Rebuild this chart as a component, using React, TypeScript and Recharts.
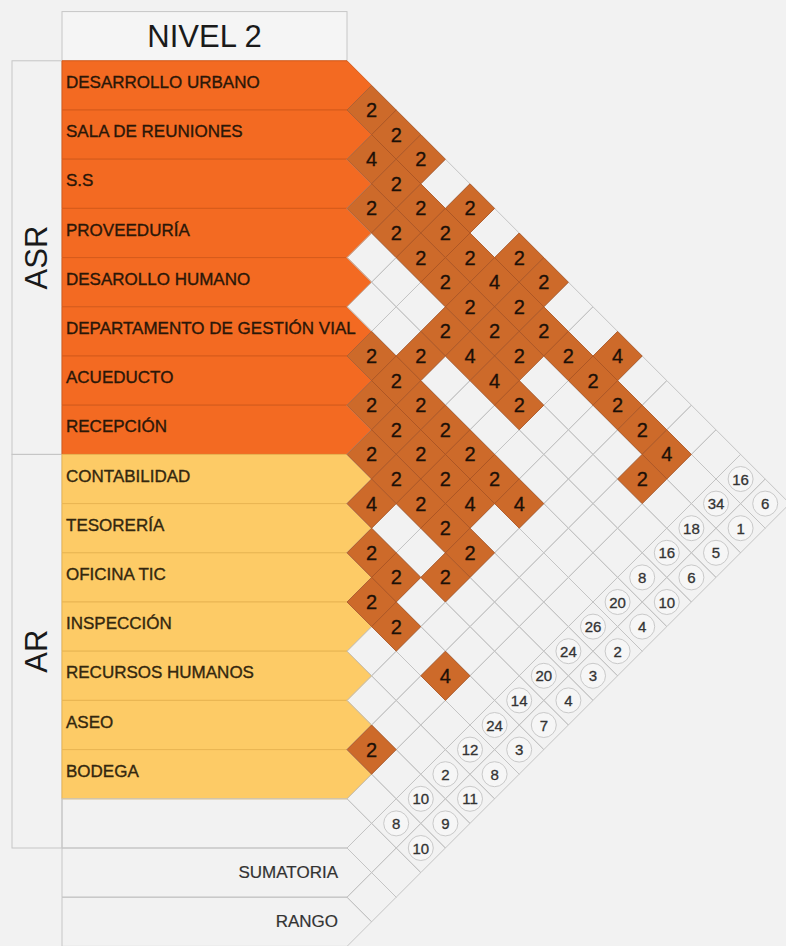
import React from "react";
import { ScatterChart, Scatter, XAxis, YAxis } from "recharts";

// --- data -------------------------------------------------------------
const TITLE = "NIVEL 2";

const DEPARTMENTS = [
  "DESARROLLO URBANO",
  "SALA DE REUNIONES",
  "S.S",
  "PROVEEDURÍA",
  "DESAROLLO HUMANO",
  "DEPARTAMENTO DE GESTIÓN VIAL",
  "ACUEDUCTO",
  "RECEPCIÓN",
  "CONTABILIDAD",
  "TESORERÍA",
  "OFICINA TIC",
  "INSPECCIÓN",
  "RECURSOS HUMANOS",
  "ASEO",
  "BODEGA",
];

// group name, first row, last row (last AR row includes the empty row)
const GROUP_NAMES = ["ASR", "AR"];
const GROUP_FIRST = [0, 8];
const GROUP_LAST = [7, 15];

const FOOT_LABELS = ["", "SUMATORIA", "RANGO"];

// [row i, row j, value]
const LINKS: [number, number, number][] = [
  [0, 1, 2], [0, 2, 2], [0, 3, 2], [0, 5, 2], [0, 7, 2], [0, 8, 2], [0, 11, 4],
  [1, 2, 4], [1, 3, 2], [1, 4, 2], [1, 5, 2], [1, 6, 2], [1, 7, 4], [1, 8, 2],
  [1, 9, 2], [1, 10, 2], [1, 11, 2], [1, 12, 2], [1, 13, 2], [1, 14, 4],
  [2, 3, 2], [2, 4, 2], [2, 5, 2], [2, 6, 2], [2, 7, 2], [2, 8, 2], [2, 9, 2], [2, 14, 2],
  [3, 7, 2], [3, 8, 4], [3, 9, 4], [3, 10, 2],
  [4, 7, 2],
  [5, 6, 2], [5, 7, 2], [5, 8, 2], [5, 9, 2], [5, 10, 2], [5, 11, 2], [5, 12, 4],
  [6, 7, 2], [6, 8, 2], [6, 9, 2], [6, 10, 2], [6, 11, 4],
  [7, 8, 2], [7, 9, 2], [7, 10, 2], [7, 11, 2], [7, 12, 2],
  [8, 9, 4], [8, 12, 2],
  [9, 10, 2], [9, 11, 2],
  [10, 11, 2], [10, 12, 2], [10, 14, 4],
  [13, 14, 2],
];

const SUMATORIA = [16, 34, 18, 16, 8, 20, 26, 24, 20, 14, 24, 12, 2, 10, 8];
const RANGO = [6, 1, 5, 6, 10, 4, 2, 3, 4, 7, 3, 8, 11, 9, 10];

// --- layout -----------------------------------------------------------
const W = 786;
const H = 946;
const U = 24.6; // half row height
const X0 = 347; // right edge of the label column
const Y0 = 85.4; // centre of first row
const LABEL_LEFT = 62;
const GROUP_LEFT = 12;
const FONT = "'Liberation Sans', Arial, sans-serif";

const toD = (px: number) => (px - X0) / U;

const N = DEPARTMENTS.length;
const SUM_ROW = N + 1;
const RANK_ROW = N + 2;
const ALL_ROWS = N + 3;

const rowData = [
  ...DEPARTMENTS.map((name, i) => ({ d: 1, s: 2 * i, name, kind: i < GROUP_FIRST[1] ? "asr" : "ar" })),
  ...FOOT_LABELS.map((name, k) => ({ d: 1, s: 2 * (N + k), name, kind: "foot" })),
];

const gridData: { d: number; s: number }[] = [];
for (let i = 0; i < ALL_ROWS; i++) {
  for (let j = i + 1; j < ALL_ROWS; j++) gridData.push({ d: j - i, s: i + j });
}

const linkData = LINKS.map(([i, j, v]) => ({ d: j - i, s: i + j, v }));
const sumData = SUMATORIA.map((v, i) => ({ d: SUM_ROW - i, s: SUM_ROW + i, v }));
const rankData = RANGO.map((v, i) => ({ d: RANK_ROW - i, s: RANK_ROW + i, v }));

const groupData = GROUP_NAMES.map((name, g) => ({
  d: toD((GROUP_LEFT + LABEL_LEFT) / 2),
  s: GROUP_FIRST[g] + GROUP_LAST[g],
  name,
  rows: GROUP_LAST[g] - GROUP_FIRST[g] + 1,
}));

const headerData = [{ d: toD((LABEL_LEFT + X0) / 2), s: -2, name: TITLE }];

// --- shapes -----------------------------------------------------------
const diamond = (cx: number, cy: number) =>
  `${cx},${cy - U} ${cx + U},${cy} ${cx},${cy + U} ${cx - U},${cy}`;

const RowShape = (p: any) => {
  const { cx, cy, payload } = p;
  const pts = `${LABEL_LEFT},${cy - U} ${cx - U},${cy - U} ${cx},${cy} ${cx - U},${cy + U} ${LABEL_LEFT},${cy + U}`;
  if (payload.kind === "foot") {
    return (
      <g>
        <polygon points={pts} fill="none" stroke="#c6c6c6" strokeWidth={1} />
        <text x={X0 - 9} y={cy} textAnchor="end" dominantBaseline="central" fontFamily={FONT} fontSize={17} fill="#333"
          stroke="#333" strokeWidth={0.2}>
          {payload.name}
        </text>
      </g>
    );
  }
  const asr = payload.kind === "asr";
  return (
    <polygon
      points={pts}
      fill={asr ? "#f36a22" : "#fdcb66"}
      stroke={asr ? "#d65b1b" : "#e9b552"}
      strokeWidth={1}
    />
  );
};

const RowText = (p: any) => {
  const { cy, payload } = p;
  if (payload.kind === "foot") return <g />;
  const c = payload.kind === "asr" ? "#2a1708" : "#33270f";
  return (
    <text x={LABEL_LEFT + 4} y={cy - 3} dominantBaseline="central" fontFamily={FONT} fontSize={17}
      fill={c} stroke={c} strokeWidth={0.35}>
      {payload.name}
    </text>
  );
};

const GridShape = (p: any) => (
  <polygon points={diamond(p.cx, p.cy)} fill="none" stroke="#c4c4c4" strokeWidth={1} />
);

const LinkShape = (p: any) => (
  <g>
    <polygon points={diamond(p.cx, p.cy)} fill="#cd6a2a" stroke="#a95322" strokeWidth={0.8} />
    <text x={p.cx} y={p.cy} textAnchor="middle" dominantBaseline="central" fontFamily={FONT} fontSize={20}
      fill="#1c1007" stroke="#1c1007" strokeWidth={0.3}>
      {p.payload.v}
    </text>
  </g>
);

const CircleShape = (p: any) => (
  <g>
    <circle cx={p.cx} cy={p.cy} r={12.5} fill="#f6f6f6" stroke="#c9c9c9" strokeWidth={1} />
    <text x={p.cx} y={p.cy} textAnchor="middle" dominantBaseline="central" fontFamily={FONT} fontSize={15} fill="#333"
      stroke="#333" strokeWidth={0.3}>
      {p.payload.v}
    </text>
  </g>
);

const GroupShape = (p: any) => {
  const { cx, cy, payload } = p;
  const h = payload.rows * 2 * U;
  return (
    <g>
      <rect x={GROUP_LEFT} y={cy - h / 2} width={LABEL_LEFT - GROUP_LEFT} height={h} fill="none" stroke="#c6c6c6" strokeWidth={1} />
      <text x={cx} y={cy} textAnchor="middle" dominantBaseline="central" fontFamily={FONT} fontSize={31} fill="#1a1a1a"
        transform={`rotate(-90 ${cx} ${cy})`}>
        {payload.name}
      </text>
    </g>
  );
};

const HeaderShape = (p: any) => {
  const { cx, cy, payload } = p;
  return (
    <g>
      <rect x={LABEL_LEFT} y={cy - U} width={X0 - LABEL_LEFT} height={2 * U} fill="#f5f5f5" stroke="#c6c6c6" strokeWidth={1} />
      <text x={cx} y={cy} textAnchor="middle" dominantBaseline="central" fontFamily={FONT} fontSize={31} fill="#1a1a1a">
        {payload.name}
      </text>
    </g>
  );
};

export default function App() {
  return (
    <div style={{ width: W, height: H, background: "#f2f2f2" }}>
      <style>{"body{margin:0;background:#f2f2f2}"}</style>
      <ScatterChart width={W} height={H} margin={{ top: 0, right: 0, bottom: 0, left: 0 }}>
        <XAxis type="number" dataKey="d" hide domain={[toD(0), toD(W)]} allowDataOverflow />
        <YAxis type="number" dataKey="s" hide reversed domain={[-Y0 / U, (H - Y0) / U]} allowDataOverflow />
        <Scatter data={headerData} shape={HeaderShape} isAnimationActive={false} />
        <Scatter data={groupData} shape={GroupShape} isAnimationActive={false} />
        <Scatter data={rowData} shape={RowShape} isAnimationActive={false} />
        <Scatter data={gridData} shape={GridShape} isAnimationActive={false} />
        <Scatter data={linkData} shape={LinkShape} isAnimationActive={false} />
        <Scatter data={sumData} shape={CircleShape} isAnimationActive={false} />
        <Scatter data={rankData} shape={CircleShape} isAnimationActive={false} />
        <Scatter data={rowData} shape={RowText} isAnimationActive={false} />
      </ScatterChart>
    </div>
  );
}
